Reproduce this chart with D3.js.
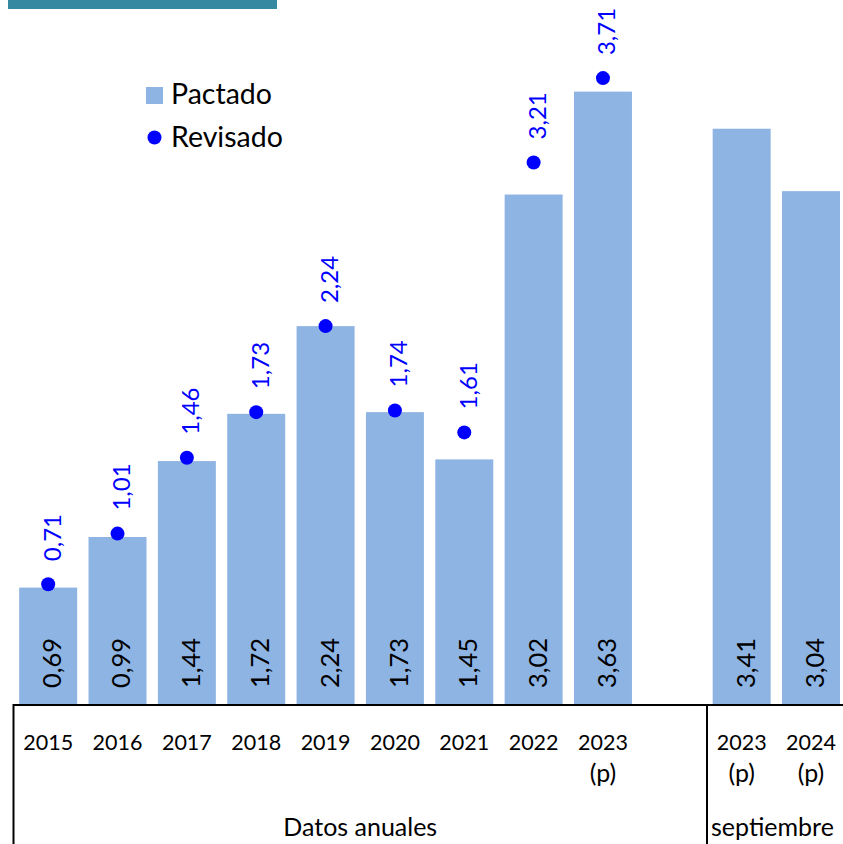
<!DOCTYPE html>
<html><head><meta charset="utf-8">
<script src="https://cdn.jsdelivr.net/npm/d3@7"></script>
<style>body{margin:0;background:#fff}svg{display:block;font-family:Lato,"Open Sans",sans-serif}</style>
</head><body>
<script>
const categories = ["2015","2016","2017","2018","2019","2020","2021","2022","2023a","gap","2023s","2024s"];
const tickLines = [["2015"],["2016"],["2017"],["2018"],["2019"],["2020"],["2021"],["2022"],["2023","(p)"],[],["2023","(p)"],["2024","(p)"]];
const pactado  = [0.69,0.99,1.44,1.72,2.24,1.73,1.45,3.02,3.63,null,3.41,3.04];
const revisado = [0.71,1.01,1.46,1.73,2.24,1.74,1.61,3.21,3.71,null,null,null];
const pactadoLabels  = ["0,69","0,99","1,44","1,72","2,24","1,73","1,45","3,02","3,63","","3,41","3,04"];
const revisadoLabels = ["0,71","1,01","1,46","1,73","2,24","1,74","1,61","3,21","3,71","","",""];
const groups = [{label:"Datos anuales"},{label:"septiembre"}];
const legendItems = ["Pactado","Revisado"];

const W = 843, H = 844;
const barColor = "#8eb4e3", dotColor = "#0000ff", teal = "#3589a0";
const svg = d3.select("body").append("svg").attr("width",W).attr("height",H);

const x = d3.scaleBand().domain(categories).range([13.5, 13.5 + 12*69.35]).paddingInner(0.164).paddingOuter(0.082);
const y = d3.scaleLinear().domain([0,4]).range([704, 704 - 4*168.7]);

svg.append("rect").attr("x",8).attr("y",0).attr("width",269).attr("height",9).attr("fill",teal);

const idx = d3.range(categories.length);
svg.append("g").selectAll("rect").data(idx.filter(i=>pactado[i]!=null)).join("rect")
  .attr("x",i=>x(categories[i])).attr("width",x.bandwidth())
  .attr("y",i=>y(pactado[i])).attr("height",i=>y(0)-y(pactado[i]))
  .attr("fill",barColor);

svg.append("g").selectAll("text").data(idx.filter(i=>pactado[i]!=null)).join("text")
  .attr("transform",i=>`translate(${x(categories[i])+x.bandwidth()/2+4},${y(0)-16}) rotate(-90)`)
  .attr("dy","0.35em").attr("font-size",25.5).attr("fill","#000").text(i=>pactadoLabels[i]);

svg.append("g").selectAll("circle").data(idx.filter(i=>revisado[i]!=null)).join("circle")
  .attr("cx",i=>x(categories[i])+x.bandwidth()/2).attr("cy",i=>y(revisado[i])).attr("r",7).attr("fill",dotColor);

svg.append("g").selectAll("text").data(idx.filter(i=>revisado[i]!=null)).join("text")
  .attr("transform",i=>`translate(${x(categories[i])+x.bandwidth()/2+4},${y(revisado[i])-23}) rotate(-90)`)
  .attr("dy","0.35em").attr("font-size",24).attr("fill",dotColor).text(i=>revisadoLabels[i]);

// axis
const axisG = svg.append("g");
axisG.append("line").attr("x1",13.5).attr("x2",W).attr("y1",y(0)+1).attr("y2",y(0)+1).attr("stroke","#000").attr("stroke-width",2);
const dividers = [13.5, (x("gap")+x.bandwidth()+x("2023s"))/2];
axisG.selectAll("line.div").data(dividers).join("line").attr("class","div")
  .attr("x1",d=>d).attr("x2",d=>d).attr("y1",y(0)).attr("y2",H).attr("stroke","#000").attr("stroke-width",2);

const tl = axisG.selectAll("text.tick").data(idx).join("text").attr("class","tick")
  .attr("text-anchor","middle").attr("fill","#000");
tl.each(function(i){
  const t = d3.select(this);
  tickLines[i].forEach((s,k)=>{
    t.append("tspan").attr("x",x(categories[i])+x.bandwidth()/2).attr("y",750+k*32)
      .attr("font-size",k===0?21.5:25).text(s);
  });
});

axisG.selectAll("text.grp").data(groups).join("text").attr("class","grp")
  .attr("x",(g,i)=>i===0 ? (dividers[0]+dividers[1])/2 : dividers[1]+4)
  .attr("text-anchor",(g,i)=>i===0 ? "middle" : "start")
  .attr("y",836).attr("font-size",25).attr("fill","#000").text(g=>g.label);

// legend
const lg = svg.append("g");
lg.append("rect").attr("x",146).attr("y",87).attr("width",17).attr("height",17).attr("fill",barColor);
lg.append("circle").attr("cx",154.5).attr("cy",137.5).attr("r",7).attr("fill",dotColor);
lg.selectAll("text").data(legendItems).join("text").attr("x",171).attr("y",(d,i)=>104+i*43)
  .attr("font-size",28.5).attr("fill","#000").text(d=>d);
</script>
</body></html>
